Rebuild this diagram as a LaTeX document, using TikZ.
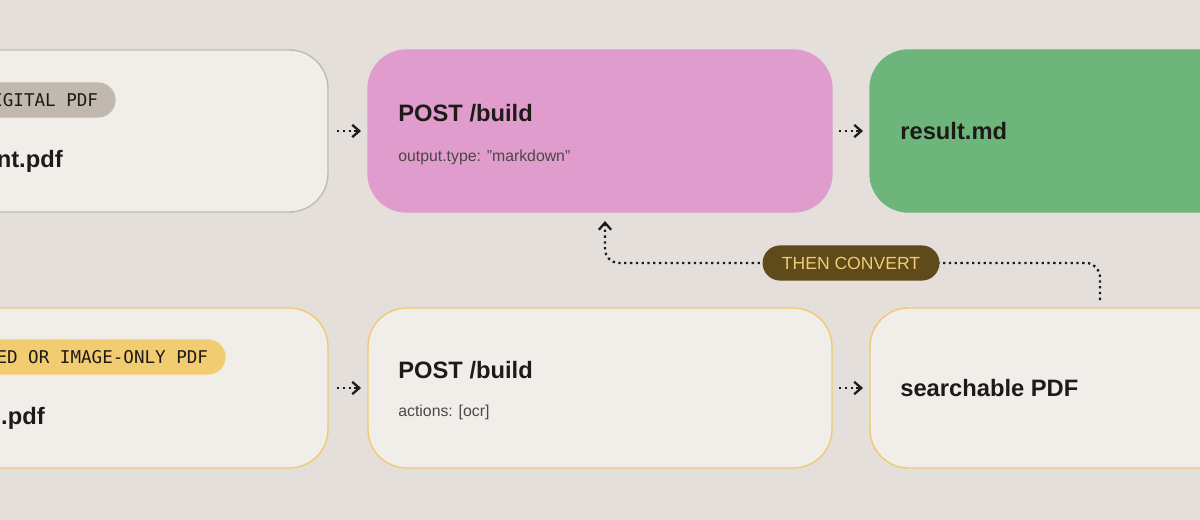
\documentclass[tikz,border=0pt]{standalone}
\usepackage{fontspec}
\setmainfont{Liberation Sans}
\setmonofont{DejaVu Sans Mono}
\usetikzlibrary{arrows.meta,positioning}
\definecolor{bg}{HTML}{E4DFDB}
\definecolor{card}{HTML}{F1EDE9}
\definecolor{cardline}{HTML}{C2BAB2}
\definecolor{scanline}{HTML}{F0CA72}
\definecolor{pinkbox}{HTML}{DF9CCD}
\definecolor{greenbox}{HTML}{6DB57A}
\definecolor{greytag}{HTML}{C1B9AF}
\definecolor{yellowtag}{HTML}{F1CC70}
\definecolor{darktag}{HTML}{5F4A1B}
\definecolor{ink}{HTML}{1E1A17}
\tikzset{box/.style={draw, rounded corners=22pt, line width=0.8pt}}
\tikzset{title/.style={anchor=west, inner sep=0pt, font=\fontsize{13.5}{15}\selectfont\bfseries, text=ink}}
\tikzset{sub/.style={anchor=west, inner sep=0pt, font=\fontsize{9}{11}\selectfont, text=ink!80}}
\tikzset{tag/.style={rounded corners=10pt, inner xsep=10pt, minimum height=20pt, font=\ttfamily\fontsize{10}{12}\selectfont, text=ink}}
\tikzset{flow/.style={dotted, line width=1.3pt, -{Straight Barb[length=4pt,width=7pt]}, ink}}

\begin{document}
\begin{tikzpicture}[x=0.02cm, y=-0.02cm]

    \useasboundingbox (0,0) rectangle (1200,520);
    \clip (0,0) rectangle (1200,520);
    \fill[bg] (0,0) rectangle (1200,520);

    % top row
    \draw[box, fill=card, draw=cardline] (-60,50) rectangle (328,212);
    \draw[box, fill=pinkbox, draw=pinkbox] (368,50) rectangle (832,212);
    \draw[box, fill=greenbox, draw=greenbox] (870,50) rectangle (1260,212);

    % bottom row
    \draw[box, fill=card, draw=scanline] (-60,308) rectangle (328,468);
    \draw[box, fill=card, draw=scanline] (368,308) rectangle (832,468);
    \draw[box, fill=card, draw=scanline] (870,308) rectangle (1260,468);

    % tags
    \node[tag, fill=greytag, anchor=east] (digital) at (116,100) {DIGITAL PDF};
    \node[tag, fill=yellowtag, anchor=east] (scanned) at (226,357) {SCANNED OR IMAGE-ONLY PDF};

    % texts
    \node[title, anchor=east] (docfile) at (63,161) {document.pdf};
    \node[title, anchor=east] (scanfile) at (45,418) {scan.pdf};
    \node[title] (buildmd) at (398,113) {POST /build};
    \node[sub] (buildmdopt) at (398,157) {output.type: \symbol{34}markdown\symbol{34}};
    \node[title] (result) at (900,131) {result.md};
    \node[title] (buildocr) at (398,370) {POST /build};
    \node[sub] (buildocropt) at (398,412) {actions: [ocr]};
    \node[title] (searchable) at (900,388) {searchable PDF};

    % connectors
    \coordinate (a1) at (337,131); \coordinate (a2) at (361,131);
    \coordinate (b1) at (839,131); \coordinate (b2) at (863,131);
    \coordinate (c1) at (337,388); \coordinate (c2) at (361,388);
    \coordinate (d1) at (839,388); \coordinate (d2) at (863,388);
    \draw[flow] (a1) -- (a2);
    \draw[flow] (b1) -- (b2);
    \draw[flow] (c1) -- (c2);
    \draw[flow] (d1) -- (d2);

    \coordinate (from) at (1100,300);
    \coordinate (to) at (605,221);
    \draw[flow, rounded corners=8pt] (from) |- (851,263) -| (to);
    \node[tag, fill=darktag, text=yellowtag, font=\fontsize{10}{12}\selectfont, minimum height=20pt, inner xsep=11pt, rounded corners=10pt] (convert) at (851,263) {THEN CONVERT};

\end{tikzpicture}
\end{document}
